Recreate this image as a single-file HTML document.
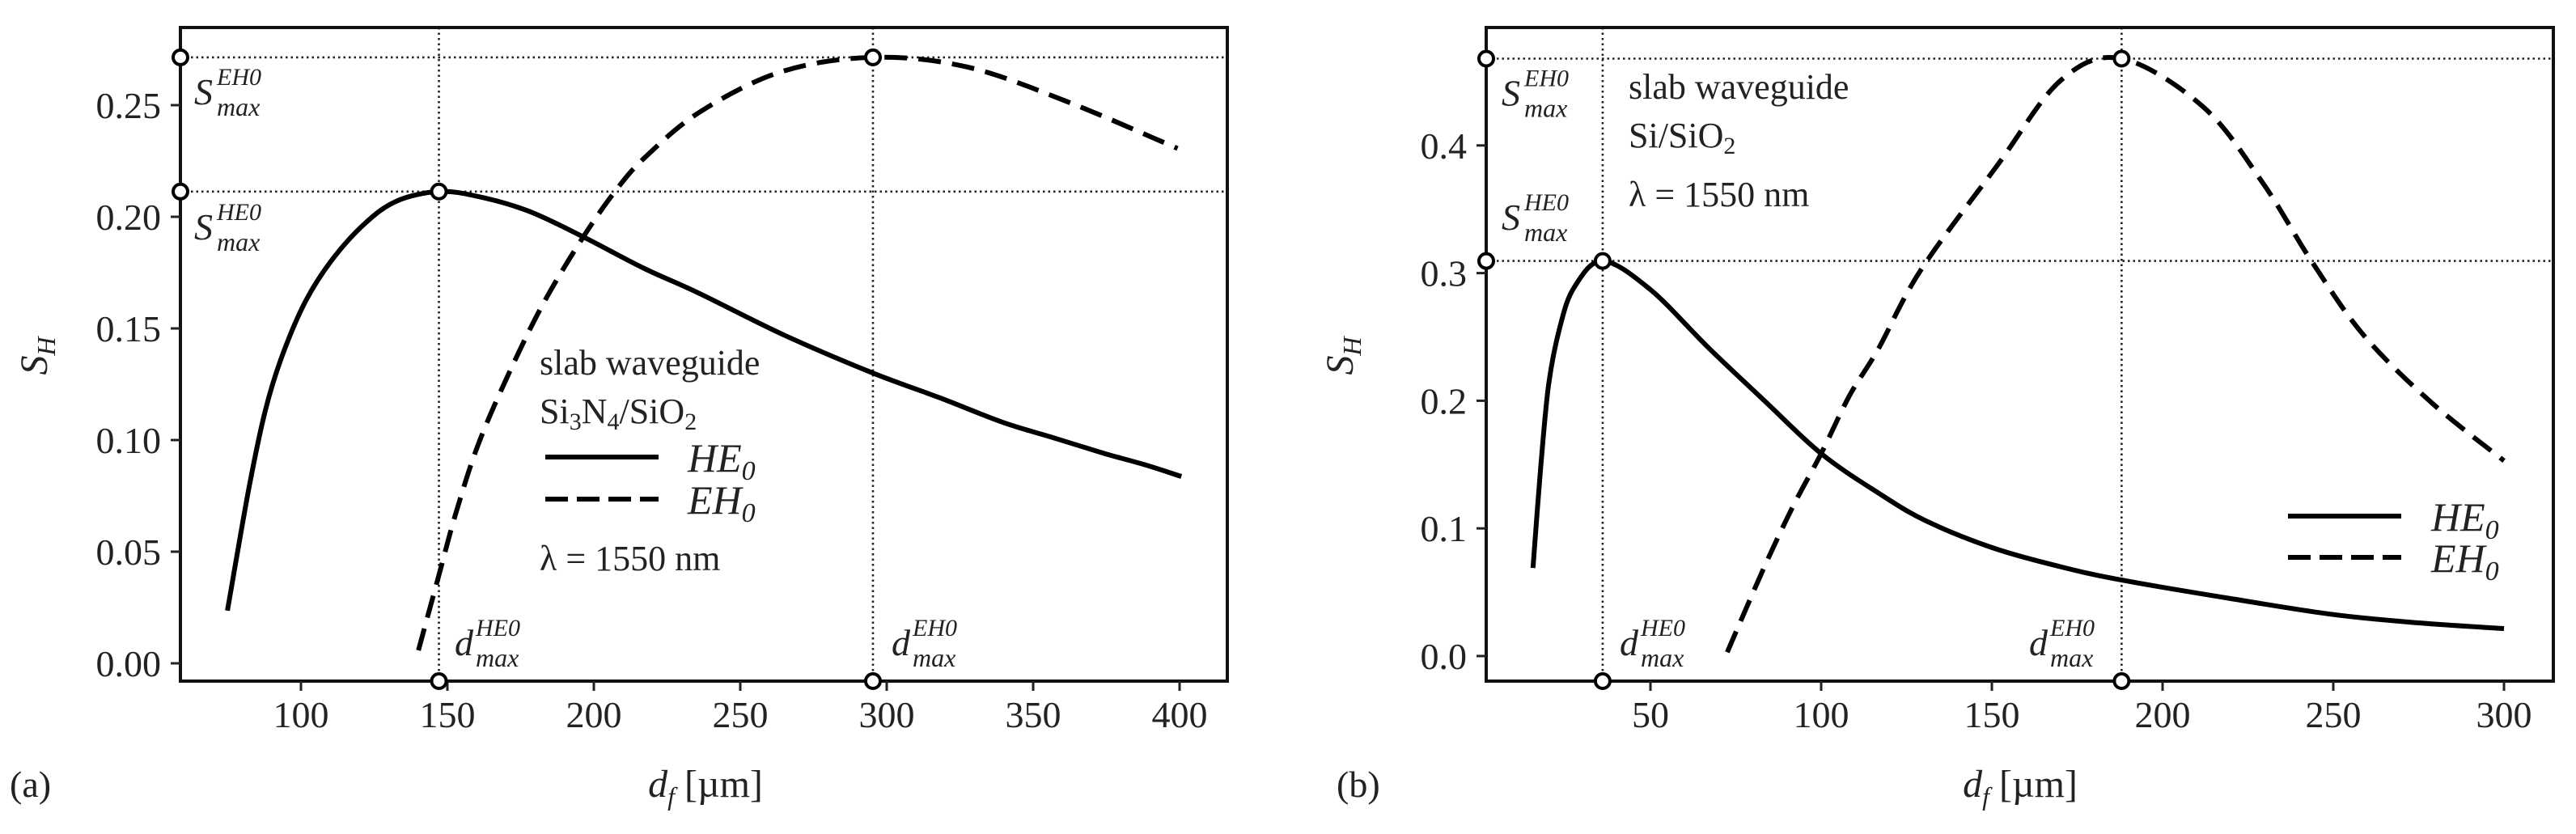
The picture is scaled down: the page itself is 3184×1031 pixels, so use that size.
<!DOCTYPE html>
<html><head><meta charset="utf-8"><style>
html,body{margin:0;padding:0;background:#fff;}
svg{display:block;font-family:"Liberation Serif",serif;}
</style></head><body>
<svg id="fig" width="3184" height="1031" viewBox="0 0 3184 1031" xmlns="http://www.w3.org/2000/svg"></svg>
<script>
// ---- Panel (a) data: Si3N4/SiO2 ----
const aHeX = [74.9,82.0,87.6,93.1,101.1,110.2,121.4,132.6,147.1,160.8,177.8,196.4,217,235.5,265,295.3,318,339.5,357,374.3,388,400.6];
const aHeY = [0.0236,0.0768,0.112,0.136,0.161,0.180,0.1965,0.207,0.2113,0.209,0.2025,0.191,0.177,0.166,0.147,0.130,0.119,0.108,0.101,0.094,0.089,0.0837];
const aEhX = [140.1,147.2,153,160.8,172.1,183.4,196.4,207.2,217,235.9,263.8,295.3,327.8,362.7,399.3];
const aEhY = [0.0058,0.040,0.0678,0.099,0.133,0.1627,0.191,0.2113,0.226,0.2467,0.2649,0.2714,0.267,0.251,0.2306];
const aXTicks = [100,150,200,250,300,350,400];
const aYTicks = [0.00,0.05,0.10,0.15,0.20,0.25];
const aYTickLabels = ["0.00","0.05","0.10","0.15","0.20","0.25"];
const aSmaxHE = 0.2113, aSmaxEH = 0.2714, aDmaxHE = 147.1, aDmaxEH = 295.3;
// ---- Panel (b) data: Si/SiO2 ----
const bHeX = [15.6,17.8,20.2,23.5,27.7,36,50,66.8,83.4,100,116.6,130.6,150,170,188,220,250,275,300];
const bHeY = [0.069,0.146,0.213,0.258,0.289,0.3095,0.287,0.242,0.200,0.1586,0.128,0.106,0.085,0.070,0.0595,0.045,0.0325,0.026,0.0215];
const bEhX = [72.5,83.4,91.7,100,108.3,116.6,129.1,151.5,170.2,188,212,229.5,243.6,259,279,300];
const bEhY = [0.003,0.070,0.117,0.1586,0.204,0.240,0.302,0.384,0.451,0.468,0.430,0.370,0.3095,0.251,0.198,0.153];
const bXTicks = [50,100,150,200,250,300];
const bYTicks = [0.0,0.1,0.2,0.3,0.4];
const bYTickLabels = ["0.0","0.1","0.2","0.3","0.4"];
const bSmaxHE = 0.3095, bSmaxEH = 0.468, bDmaxHE = 36, bDmaxEH = 188;

const NS = "http://www.w3.org/2000/svg";
const svg = document.getElementById('fig');
function mk(tag, attrs, parent){
  const e = document.createElementNS(NS, tag);
  for (const k in attrs) e.setAttribute(k, attrs[k]);
  (parent||svg).appendChild(e);
  return e;
}
function pathFrom(xs, ys, sx, sy){
  const P = xs.map((x,i)=>[sx(x), sy(ys[i])]);
  let d = "M" + P[0][0].toFixed(1) + "," + P[0][1].toFixed(1);
  for (let i=0;i<P.length-1;i++){
    const p0 = P[i-1]||P[i], p1 = P[i], p2 = P[i+1], p3 = P[i+2]||P[i+1];
    const c1 = [p1[0]+(p2[0]-p0[0])/6, p1[1]+(p2[1]-p0[1])/6];
    const c2 = [p2[0]-(p3[0]-p1[0])/6, p2[1]-(p3[1]-p1[1])/6];
    d += "C"+c1[0].toFixed(1)+","+c1[1].toFixed(1)+" "+c2[0].toFixed(1)+","+c2[1].toFixed(1)+" "+p2[0].toFixed(1)+","+p2[1].toFixed(1);
  }
  return d;
}
function sLabel(g, x, y, sup){
  const t = mk('text', {x:x, y:y, 'font-size':46, 'font-style':'italic', fill:'#222'}, g);
  t.textContent = "S";
  const s1 = mk('tspan', {x:x+28, y:y-24, 'font-size':30}, t); s1.textContent = sup;
  const s2 = mk('tspan', {x:x+28, y:y+14, 'font-size':32}, t); s2.textContent = "max";
  return t;
}
function dLabel(g, x, y, sup){
  const t = mk('text', {x:x, y:y, 'font-size':46, 'font-style':'italic', fill:'#222'}, g);
  t.textContent = "d";
  const s1 = mk('tspan', {x:x+26, y:y-24, 'font-size':30}, t); s1.textContent = sup;
  const s2 = mk('tspan', {x:x+26, y:y+14, 'font-size':32}, t); s2.textContent = "max";
  return t;
}

function panel(cfg){
  const g = mk('g', {});
  
  
  const sx = v => cfg.x0 + (v - cfg.xv0) * cfg.kx;
  const sy = v => cfg.y0 - v * cfg.ky;
  const L = cfg.left, R = cfg.right, T = 34, B = 842;
  const guides = mk('g', {stroke:'#222', 'stroke-width':2.6, 'stroke-dasharray':'2.5 4', fill:'none'}, g);
  
  
  [cfg.smaxHE, cfg.smaxEH].forEach(v => mk('line', {x1:L, x2:R, y1:sy(v), y2:sy(v)}, guides));
  [cfg.dmaxHE, cfg.dmaxEH].forEach(v => mk('line', {x1:sx(v), x2:sx(v), y1:T, y2:B}, guides));
  const he = mk('path', {d:pathFrom(cfg.heX, cfg.heY, sx, sy), fill:'none', stroke:'#000', 'stroke-width':6, 'stroke-linejoin':'round'}, g);
  
  
  const eh = mk('path', {d:pathFrom(cfg.ehX, cfg.ehY, sx, sy), fill:'none', stroke:'#000', 'stroke-width':6, 'stroke-dasharray':'28 14'}, g);
  
  
  const fr = mk('rect', {x:L, y:T, width:R-L, height:B-T, fill:'none', stroke:'#111', 'stroke-width':4}, g);
  
  
  cfg.xTicks.forEach(v => {
    const t = mk('line', {x1:sx(v), x2:sx(v), y1:B, y2:B+12, stroke:'#222', 'stroke-width':3}, g);
    
    
    const lb = mk('text', {x:sx(v), y:899, 'font-size':46, 'text-anchor':'middle', fill:'#222'}, g);
    lb.textContent = String(v);
    
    
  });
  cfg.yTicks.forEach((v,i) => {
    const t = mk('line', {x1:L-12, x2:L, y1:sy(v), y2:sy(v), stroke:'#222', 'stroke-width':3}, g);
    
    
    const lb = mk('text', {x:L-24, y:sy(v)+16, 'font-size':46, 'text-anchor':'end', fill:'#222'}, g);
    lb.textContent = cfg.yLabels[i];
    
    
  });
  const pts = [[L, sy(cfg.smaxHE)], [L, sy(cfg.smaxEH)], [sx(cfg.dmaxHE), B], [sx(cfg.dmaxEH), B],
               [sx(cfg.dmaxHE), sy(cfg.smaxHE)], [sx(cfg.dmaxEH), sy(cfg.smaxEH)]];
  pts.forEach(p => {
    const c = mk('circle', {cx:p[0], cy:p[1], r:9, fill:'#fff', stroke:'#000', 'stroke-width':4}, g);
    
    
  });
  const s1 = sLabel(g, cfg.sLabelX, sy(cfg.smaxEH)+58, "EH0");
  
  
  const s2 = sLabel(g, cfg.sLabelX, cfg.sHELabelY, "HE0");
  
  
  const d1 = dLabel(g, cfg.dHEx, 810, "HE0");
  
  
  const d2 = dLabel(g, cfg.dEHx, 810, "EH0");
  
  
  const xt = mk('text', {x:cfg.xTitleX, y:985, 'font-size':48, 'text-anchor':'middle', fill:'#222'}, g);
  const xd = mk('tspan', {'font-style':'italic'}, xt); xd.textContent = "d";
  const xf = mk('tspan', {'font-style':'italic', 'font-size':32, dy:10}, xt); xf.textContent = "f";
  const xu = mk('tspan', {dy:-10}, xt); xu.textContent = " [µm]";
  
  
  const yt = mk('text', {x:0, y:0, 'font-size':48, 'font-style':'italic', 'text-anchor':'middle', fill:'#222', transform:`translate(${cfg.yTitleX},440) rotate(-90)`}, g);
  const ys = mk('tspan', {}, yt); ys.textContent = "S";
  const yh = mk('tspan', {'font-size':32, dy:10}, yt); yh.textContent = "H";
  
  
  const pl = mk('text', {x:cfg.panelX, y:985, 'font-size':46, fill:'#222'}, g);
  pl.textContent = cfg.panelLabel;
  
  
  return g;
}

const ga = panel({name:'panel-a', left:223, right:1517, x0:372, xv0:100, kx:3.62, y0:820, ky:2760,
  heX:aHeX, heY:aHeY, ehX:aEhX, ehY:aEhY, xTicks:aXTicks, yTicks:aYTicks, yLabels:aYTickLabels,
  smaxHE:aSmaxHE, smaxEH:aSmaxEH, dmaxHE:aDmaxHE, dmaxEH:aDmaxEH,
  sLabelX:240, sHELabelY:296, dHEx:562, dEHx:1102, xTitleX:872, yTitleX:58, panelX:12, panelLabel:'(a)'});
const gb = panel({name:'panel-b', left:1837, right:3156, x0:2040, xv0:50, kx:4.22, y0:811, ky:1578,
  heX:bHeX, heY:bHeY, ehX:bEhX, ehY:bEhY, xTicks:bXTicks, yTicks:bYTicks, yLabels:bYTickLabels,
  smaxHE:bSmaxHE, smaxEH:bSmaxEH, dmaxHE:bDmaxHE, dmaxEH:bDmaxEH,
  sLabelX:1856, sHELabelY:284, dHEx:2002, dEHx:2508, xTitleX:2497, yTitleX:1672, panelX:1652, panelLabel:'(b)'});

function txt(g, x, y, s, name){
  const t = mk('text', {x:x, y:y, 'font-size':44, fill:'#222'}, g);
  t.textContent = s;
  
  
  return t;
}
txt(ga, 667, 463, "slab waveguide", 'material-title');
const m = txt(ga, 667, 523, "Si", 'material-label');
let sp = mk('tspan', {'font-size':30, dy:8}, m); sp.textContent = "3";
sp = mk('tspan', {dy:-8}, m); sp.textContent = "N";
sp = mk('tspan', {'font-size':30, dy:8}, m); sp.textContent = "4";
sp = mk('tspan', {dy:-8}, m); sp.textContent = "/SiO";
sp = mk('tspan', {'font-size':30, dy:8}, m); sp.textContent = "2";
txt(ga, 667, 705, "λ = 1550 nm", 'wavelength-label');

function legend(g, x1, x2, tx, yHE, yEH){
  const lg = mk('g', {}, g);
  
  
  const l1 = mk('line', {x1:x1, x2:x2, y1:yHE, y2:yHE, stroke:'#000', 'stroke-width':6}, lg);
  
  
  const l2 = mk('line', {x1:x1, x2:x2, y1:yEH, y2:yEH, stroke:'#000', 'stroke-width':6, 'stroke-dasharray':'28 11'}, lg);
  
  
  [["HE", yHE, 'legend-he0-label'], ["EH", yEH, 'legend-eh0-label']].forEach(a => {
    const t = mk('text', {x:tx, y:a[1]+18, 'font-size':50, 'font-style':'italic', fill:'#222'}, lg);
    t.textContent = a[0];
    const s = mk('tspan', {'font-size':34, dy:10}, t); s.textContent = "0";
    
    
  });
}
legend(ga, 674, 814, 850, 565, 617);

txt(gb, 2013, 122, "slab waveguide", 'material-title');
const m2 = txt(gb, 2013, 182, "Si/SiO", 'material-label');
sp = mk('tspan', {'font-size':30, dy:8}, m2); sp.textContent = "2";
txt(gb, 2013, 255, "λ = 1550 nm", 'wavelength-label');
legend(gb, 2828, 2968, 3005, 638, 689);
</script>
</body></html>
